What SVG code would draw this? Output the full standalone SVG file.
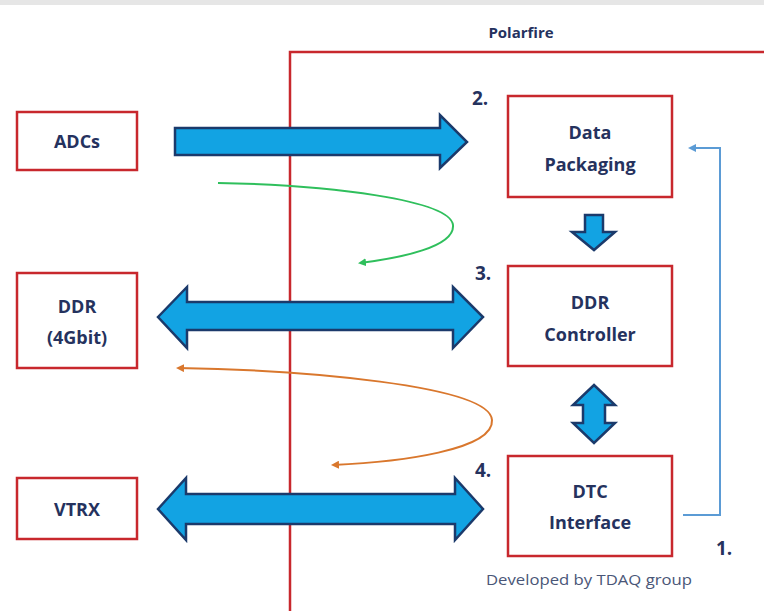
<svg xmlns="http://www.w3.org/2000/svg" width="764" height="611" viewBox="0 0 764 611">
<defs>
<style>
.box{fill:#fff;stroke:#c8282d;stroke-width:2.5}
.lbl{font-family:"Open Sans","Liberation Sans",sans-serif;font-weight:bold;font-size:18px;fill:#25325e;text-anchor:middle}
.num{font-family:"Open Sans","Liberation Sans",sans-serif;font-weight:bold;font-size:19px;fill:#25325e}
.big{fill:#12a3e3;stroke:#1b3a6b;stroke-width:2.5;stroke-linejoin:miter}
</style>
<marker id="ag" markerWidth="8" markerHeight="8" refX="6" refY="4" orient="auto" markerUnits="userSpaceOnUse"><path d="M0,0 L8,4 L0,8 Z" fill="#2fbf5c"/></marker>
<marker id="ao" markerWidth="8" markerHeight="8" refX="6" refY="4" orient="auto" markerUnits="userSpaceOnUse"><path d="M0,0 L8,4 L0,8 Z" fill="#d9772d"/></marker>
<marker id="ab" markerWidth="8" markerHeight="8" refX="6" refY="4" orient="auto" markerUnits="userSpaceOnUse"><path d="M0,0 L8,4 L0,8 Z" fill="#5b9bd5"/></marker>
</defs>
<rect width="764" height="611" fill="#fff"/>
<rect x="0" y="0" width="764" height="5" fill="#e6e6e6"/>
<g id="polarfire">
<path d="M290,611 L290,52 L764,52" fill="none" stroke="#c8282d" stroke-width="2.5"/>
<text x="521" y="38" class="lbl" style="font-size:15px">Polarfire</text>
</g>
<g id="adcs"><rect class="box" x="17" y="112" width="120" height="58"/><text class="lbl" x="77" y="148">ADCs</text></g>
<g id="ddr"><rect class="box" x="17" y="273" width="120" height="95"/><text class="lbl" x="77" y="313">DDR</text><text class="lbl" x="77" y="344">(4Gbit)</text></g>
<g id="vtrx"><rect class="box" x="17" y="478" width="120" height="61"/><text class="lbl" x="77" y="516">VTRX</text></g>
<g id="datapack"><rect class="box" x="508" y="96" width="164" height="101"/><text class="lbl" x="590" y="139">Data</text><text class="lbl" x="590" y="171">Packaging</text></g>
<g id="ddrctrl"><rect class="box" x="508" y="266" width="164" height="100"/><text class="lbl" x="590" y="309">DDR</text><text class="lbl" x="590" y="341">Controller</text></g>
<g id="dtc"><rect class="box" x="508" y="456" width="164" height="100"/><text class="lbl" x="590" y="498">DTC</text><text class="lbl" x="590" y="529">Interface</text></g>
<g id="numbers">
<text class="num" x="472" y="105">2.</text>
<text class="num" x="475" y="280">3.</text>
<text class="num" x="475" y="477">4.</text>
<text class="num" x="716" y="555">1.</text>
<text x="589" y="585" text-anchor="middle" textLength="206" lengthAdjust="spacingAndGlyphs" style="font-family:'Open Sans','Liberation Sans',sans-serif;font-size:15px;fill:#4a5677">Developed by TDAQ group</text>
</g>
<g id="connectors">
<path class="big" d="M175,128 L440,128 L440,115 L467,142 L440,168 L440,155 L175,155 Z"/>
<path class="big" d="M158,317 L187,287 L187,302 L453,302 L453,287 L483,317 L453,348 L453,330 L187,330 L187,348 Z"/>
<path class="big" d="M158,509 L186,478 L186,494 L455,494 L455,478 L483,509 L455,540 L455,524 L186,524 L186,540 Z"/>
<path class="big" d="M585,215 L603,215 L603,232 L615,232 L594,250 L572,232 L585,232 Z"/>
<path class="big" d="M594,385 L615,405 L605,405 L605,423 L615,423 L594,443 L573,423 L583,423 L583,405 L573,405 Z"/>
<path d="M218,183 C330,185 450,200 453,225 C455,247 400,258 360,263" fill="none" stroke="#2fbf5c" stroke-width="2" marker-end="url(#ag)"/>
<path d="M492,420 C494,450 400,462 333,465" fill="none" stroke="#d9772d" stroke-width="2" marker-end="url(#ao)"/>
<path d="M492,420 C490,385 300,370 178,368" fill="none" stroke="#d9772d" stroke-width="2" marker-end="url(#ao)"/>
<path d="M683,515 L720,515 L720,148 L690,148" fill="none" stroke="#5b9bd5" stroke-width="2" marker-end="url(#ab)"/>
</g>
</svg>
